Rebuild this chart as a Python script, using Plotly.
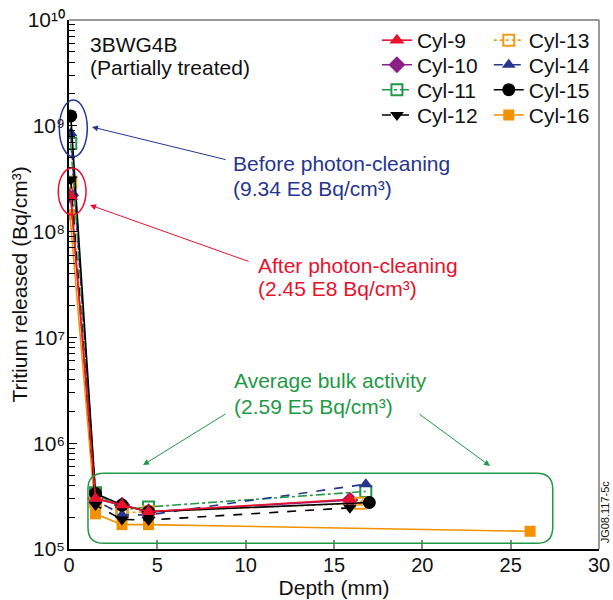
import plotly.graph_objects as go

# ---------------- data ----------------
series_names = ["Cyl-9", "Cyl-10", "Cyl-11", "Cyl-12", "Cyl-13", "Cyl-14", "Cyl-15", "Cyl-16"]

depth_cyl9 = [0.1, 1.5, 3.0, 4.5, 15.9]
tritium_cyl9 = [2.15e8, 3.0e5, 2.6e5, 2.25e5, 2.95e5]

depth_cyl10 = [0.1, 1.5, 3.0, 4.5, 15.9]
tritium_cyl10 = [2.2e8, 3.0e5, 2.6e5, 2.25e5, 2.9e5]

depth_cyl11 = [0.1, 1.5, 3.0, 4.5, 16.8]
tritium_cyl11 = [6.8e8, 3.4e5, 2.35e5, 2.5e5, 3.5e5]

depth_cyl12 = [0.1, 1.5, 3.0, 4.5, 15.9]
tritium_cyl12 = [3.1e8, 2.6e5, 1.9e5, 1.88e5, 2.45e5]

depth_cyl13 = [0.1, 1.5, 3.0, 4.5, 16.5]
tritium_cyl13 = [2.95e8, 2.8e5, 2.2e5, 2.25e5, 2.7e5]

depth_cyl14 = [0.1, 1.5, 3.0, 4.5, 16.8]
tritium_cyl14 = [8.5e8, 2.9e5, 2.1e5, 2.1e5, 4.1e5]

depth_cyl15 = [0.1, 1.5, 3.0, 4.5, 17.0]
tritium_cyl15 = [1.24e9, 3.35e5, 2.6e5, 2.25e5, 2.75e5]

depth_cyl16 = [0.05, 1.5, 3.0, 4.5, 26.1]
tritium_cyl16 = [1.45e8, 2.15e5, 1.7e5, 1.7e5, 1.47e5]

x_ticks = [0, 5, 10, 15, 20, 25, 30]
y_tickvals = [1e5, 1e6, 1e7, 1e8, 1e9, 1e10]
y_ticktext = ["10⁵", "10⁶", "10⁷", "10⁸", "10⁹", "10¹⁰"]

FONT = "Liberation Sans, Arial, Helvetica, sans-serif"
RED = "#e8112d"
PURPLE = "#8b1f86"
GREEN = "#1e9a46"
NAVY = "#26358f"
ORANGE = "#f39c12"
ORANGE2 = "#f39200"

styles = {
    "Cyl-9":  dict(x=depth_cyl9,  y=tritium_cyl9,  color=RED,    dash="solid",   symbol="triangle-up",   size=13, legend="legend",  order=6),
    "Cyl-10": dict(x=depth_cyl10, y=tritium_cyl10, color=PURPLE, dash="solid",   symbol="diamond",       size=13, legend="legend2", order=0),
    "Cyl-11": dict(x=depth_cyl11, y=tritium_cyl11, color=GREEN,  dash="dashdot", symbol="square-open",   size=11, legend="legend3", order=1),
    "Cyl-12": dict(x=depth_cyl12, y=tritium_cyl12, color="#000", dash="dash",    symbol="triangle-down", size=12, legend="legend4", order=4),
    "Cyl-13": dict(x=depth_cyl13, y=tritium_cyl13, color=ORANGE, dash="dot",     symbol="square-open",   size=11, legend="legend5", order=2),
    "Cyl-14": dict(x=depth_cyl14, y=tritium_cyl14, color=NAVY,   dash="dash",    symbol="triangle-up",   size=12, legend="legend6", order=3),
    "Cyl-15": dict(x=depth_cyl15, y=tritium_cyl15, color="#000", dash="solid",   symbol="circle",        size=13, legend="legend7", order=5),
    "Cyl-16": dict(x=depth_cyl16, y=tritium_cyl16, color=ORANGE2, dash="solid",  symbol="square",        size=11, legend="legend8", order=-1),
}

fig = go.Figure()
for name in sorted(styles, key=lambda n: styles[n]["order"]):
    s = styles[name]
    open_sym = s["symbol"].endswith("open")
    fig.add_trace(go.Scatter(
        x=s["x"], y=s["y"], name=name, mode="lines+markers",
        line=dict(color=s["color"], width=1.6, dash=s["dash"]),
        marker=dict(symbol=s["symbol"], size=s["size"], color=s["color"],
                    line=dict(color=s["color"], width=2 if open_sym else 0)),
        legend=s["legend"],
    ))
    if name == "Cyl-13":
        # half-filled square look
        fig.add_trace(go.Scatter(
            x=s["x"], y=s["y"], mode="markers", showlegend=False, hoverinfo="skip",
            marker=dict(symbol="triangle-se", size=8, color=s["color"], line=dict(width=0)),
        ))

leg_common = dict(orientation="v", yanchor="top", xanchor="left",
                  font=dict(size=21), bgcolor="rgba(0,0,0,0)", itemwidth=30)
col_x = [0.581, 0.792]
row_y = [1.0, 0.9536, 0.9063, 0.8585]
legends = {}
for i in range(8):
    key = "legend" if i == 0 else f"legend{i+1}"
    legends[key] = dict(x=col_x[i // 4], y=row_y[i % 4], **leg_common)

minor_vals = [k * 10 ** e for e in range(5, 10) for k in range(2, 10)]

fig.update_layout(
    width=605, height=592,
    margin=dict(l=61, r=14, t=12, b=51, autoexpand=False),
    paper_bgcolor="white", plot_bgcolor="white",
    font=dict(family=FONT, size=21, color="#111"),
    showlegend=True,
    xaxis=dict(range=[0, 30], tickvals=x_ticks, ticks="inside", ticklen=9,
               tickcolor="#888", tickwidth=1.5, showline=True, linecolor="#000",
               linewidth=1.5, showgrid=False, zeroline=False, automargin=False,
               ticklabelstandoff=-3, ticklabeloverflow="allow",
               title=dict(text="Depth (mm)", font=dict(size=21), standoff=2),
               tickfont=dict(size=20)),
    yaxis=dict(type="log", range=[5, 10], tickmode="array", tickvals=y_tickvals,
               ticktext=y_ticktext,
               ticks="inside", ticklen=8, tickcolor="#000", showline=True,
               linecolor="#000", linewidth=1.5, showgrid=False, zeroline=False,
               automargin=False, ticklabelstandoff=-2, ticklabeloverflow="allow",
               minor=dict(tickmode="array", tickvals=minor_vals, ticks="inside",
                          ticklen=6, tickcolor="#000", showgrid=False),
               tickfont=dict(size=21)),
    **legends,
)

# y-axis title as rotated text
fig.add_annotation(x=-0.0925, y=0.5, xref="paper", yref="paper", xanchor="center",
                   yanchor="middle", text="Tritium released (Bq/cm³)", showarrow=False,
                   textangle=-90, font=dict(size=21, color="#111"))

# frame top/right
fig.add_shape(type="line", xref="paper", yref="paper", x0=0, x1=1, y0=1, y1=1,
              line=dict(color="#777", width=1.5))
fig.add_shape(type="line", xref="paper", yref="paper", x0=1, x1=1, y0=0, y1=1,
              line=dict(color="#777", width=1.5))

# ellipses
fig.add_shape(type="circle", xref="paper", yref="paper", x0=-0.0183, x1=0.0345,
              y0=0.7416, y1=0.8488, line=dict(color=NAVY, width=1.5))
fig.add_shape(type="circle", xref="paper", yref="paper", x0=-0.0202, x1=0.0321,
              y0=0.6314, y1=0.7202, line=dict(color=RED, width=1.5))

# rounded rectangle around bulk data
x0, x1, y0, y1 = 0.0358, 0.9127, 0.0108, 0.1431
rx, ry = 0.030, 0.030
path = (f"M {x0+rx},{y0} L {x1-rx},{y0} Q {x1},{y0} {x1},{y0+ry} "
        f"L {x1},{y1-ry} Q {x1},{y1} {x1-rx},{y1} L {x0+rx},{y1} "
        f"Q {x0},{y1} {x0},{y1-ry} L {x0},{y0+ry} Q {x0},{y0} {x0+rx},{y0} Z")
fig.add_shape(type="path", xref="paper", yref="paper", path=path,
              line=dict(color=GREEN, width=1.5))

def txt(x, y, text, color="#111", size=21):
    fig.add_annotation(x=x, y=y, xref="x", yref="y", text=text, showarrow=False,
                       xanchor="left", yanchor="middle", font=dict(color=color, size=size))

def arrow(x, y, ax, ay, color):
    fig.add_annotation(x=x, y=y, ax=ax, ay=ay, xref="x", yref="y", axref="x", ayref="y",
                       text="", showarrow=True, arrowhead=2, arrowsize=1.2,
                       arrowwidth=1, arrowcolor=color)

txt(1.05, 9.77, "3BWG4B")
txt(1.05, 9.55, "(Partially treated)")

txt(9.15, 8.648, "Before photon-cleaning", NAVY)
txt(9.15, 8.412, "(9.34 E8 Bq/cm³)", NAVY)
arrow(1.30, 8.989, 8.95, 8.677, NAVY)

txt(10.6, 7.68, "After photon-cleaning", RED)
txt(10.6, 7.46, "(2.45 E8 Bq/cm³)", RED)
arrow(1.19, 8.251, 10.25, 7.713, RED)

txt(9.22, 6.59, "Average bulk activity", GREEN)
txt(9.22, 6.345, "(2.59 E5 Bq/cm³)", GREEN)
arrow(4.19, 5.794, 8.94, 6.285, GREEN)
arrow(23.83, 5.785, 19.75, 6.285, GREEN)

fig.add_annotation(x=1.012, y=0.07, xref="paper", yref="paper", xanchor="center",
                   yanchor="middle", text="JG08.117-5c",
                   showarrow=False, textangle=-90, font=dict(size=11, color="#111"))

fig.write_html(
    "out.html",
    post_script="document.body.style.margin='8px 0 0 8px';document.body.style.overflow='hidden';",
)
